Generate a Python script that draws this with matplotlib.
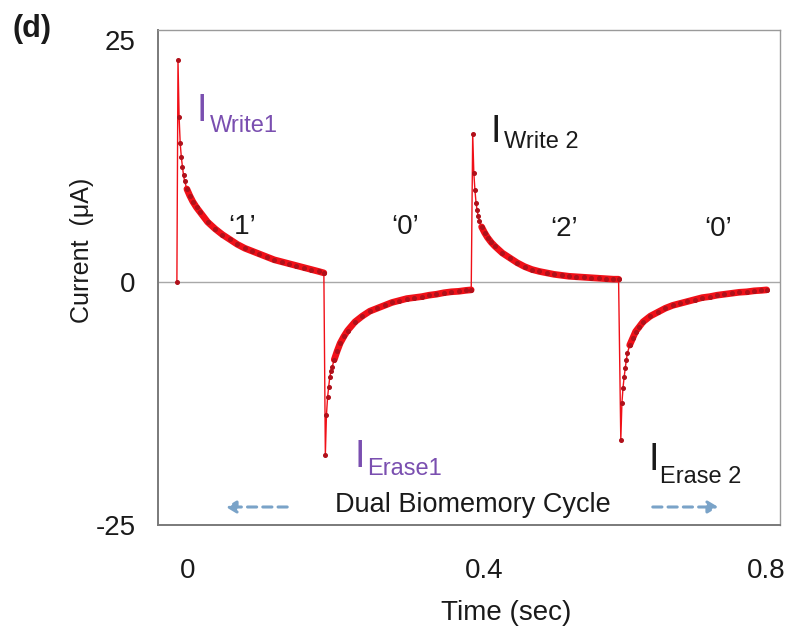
import matplotlib
matplotlib.use("Agg")
import matplotlib.pyplot as plt
from matplotlib.patches import FancyArrowPatch
from matplotlib.transforms import offset_copy

plt.rcParams['font.family'] = ['Liberation Sans', 'DejaVu Sans']

# Sampling offsets (s) within each pulse, shared by all four pulses
t_offset = [0.0, 0.0015, 0.003, 0.0045, 0.006, 0.0075, 0.009, 0.012, 0.016,
            0.020, 0.025, 0.030, 0.040, 0.050, 0.060, 0.070, 0.080, 0.090,
            0.100, 0.110, 0.120, 0.130, 0.140, 0.150, 0.160, 0.170, 0.180,
            0.190, 0.197]

# Pulse start times (s): write 1, erase 1, write 2, erase 2
pulse_start = [-0.013, 0.186, 0.385, 0.585]

# Current transients (uA)
i_write1 = [22.9, 17.0, 14.3, 12.9, 11.9, 11.0, 10.4, 9.6, 8.9, 8.3, 7.7,
            7.2, 6.2, 5.5, 4.9, 4.4, 3.9, 3.5, 3.2, 2.9, 2.6, 2.3, 2.1, 1.9,
            1.7, 1.5, 1.3, 1.1, 0.95]
i_erase1 = [-17.8, -13.7, -11.9, -10.8, -9.8, -9.2, -8.8, -8.0, -7.1, -6.3,
            -5.6, -5.0, -4.1, -3.5, -3.0, -2.7, -2.4, -2.1, -1.9, -1.7, -1.6,
            -1.5, -1.35, -1.25, -1.1, -1.0, -0.95, -0.85, -0.8]
i_write2 = [15.3, 11.3, 9.5, 8.2, 7.4, 6.8, 6.3, 5.7, 5.1, 4.6, 4.1, 3.7,
            3.0, 2.5, 2.0, 1.6, 1.3, 1.1, 0.95, 0.8, 0.7, 0.6, 0.55, 0.5,
            0.45, 0.4, 0.35, 0.3, 0.3]
i_erase2 = [-16.3, -12.5, -10.9, -9.8, -8.9, -8.0, -7.3, -6.5, -5.8, -5.1,
            -4.6, -4.1, -3.5, -3.1, -2.7, -2.4, -2.2, -2.0, -1.8, -1.6, -1.5,
            -1.35, -1.25, -1.15, -1.05, -1.0, -0.9, -0.85, -0.8]

# Resting current just before the first write pulse
t_rest = [-0.0145]
i_rest = [0.0]

x_ticks = [0, 0.4, 0.8]
x_ticklabels = ["0", "0.4", "0.8"]
y_ticks = [-25, 0, 25]
y_ticklabels = ["-25", "0", "25"]

segments = [i_write1, i_erase1, i_write2, i_erase2]

W, H = 787, 634
fig = plt.figure(figsize=(W / 100, H / 100), dpi=100)
ax = fig.add_axes([158 / W, 1 - 525 / H, (780 - 158) / W, (525 - 30) / H])


def fx(px):
    return px / W


def fy(py):
    return 1 - py / H


# Assemble the full trace
t_all = list(t_rest)
i_all = list(i_rest)
seg_t = []
for start, vals in zip(pulse_start, segments):
    ts = [start + o for o in t_offset]
    seg_t.append(ts)
    t_all += ts
    i_all += vals

red = "#f01018"
dark = "#b0101a"
ax.axhline(0, color="#a8a8a8", lw=1.0, zorder=1)
ax.plot(t_all, i_all, color=red, lw=1.0, zorder=2)

# Densely sampled slow decay reads as a thick band
for ts, vals in zip(seg_t, segments):
    ax.plot(ts[7:], vals[7:], color=red, lw=4.8, solid_capstyle="round",
            zorder=3)
ax.plot(t_all, i_all, ls="none", marker="o", ms=2.6, color=dark, zorder=4)

ax.set_xlim(-0.04, 0.8)
ax.set_ylim(-25.05, 26.0)
ax.set_xticks(x_ticks)
ax.set_xticklabels(x_ticklabels)
ax.set_yticks(y_ticks)
ax.set_yticklabels(y_ticklabels)
ax.tick_params(axis="both", length=0, labelsize=20, colors="#1a1a1a")
ax.tick_params(axis="y", pad=16)
ax.tick_params(axis="x", pad=24)
for side in ["left", "bottom"]:
    ax.spines[side].set_color("#7a7a7a")
    ax.spines[side].set_linewidth(1.4)
for side in ["top", "right"]:
    ax.spines[side].set_color("#9a9a9a")
    ax.spines[side].set_linewidth(1.0)

# Pull the last time label in so it stays on the canvas
last = ax.get_xticklabels()[-1]
last.set_transform(offset_copy(last.get_transform(), fig=fig, x=-14,
                               units="dots"))

fig.text(fx(82), fy(250), "Current  (μA)", rotation=90, ha="center",
         va="center", fontsize=18, color="#1a1a1a")
fig.text(fx(506), fy(613), "Time (sec)", ha="center", va="center",
         fontsize=20, color="#1a1a1a")
fig.text(fx(32), fy(29), "(d)", ha="center", va="center", fontsize=22,
         fontweight="bold", color="#1a1a1a")

purple = "#7a4fb0"
black = "#1a1a1a"


def current_label(x_i, y_base_i, x_sub, y_base_sub, sub, color):
    fig.text(fx(x_i), fy(y_base_i), "I", ha="left", va="baseline",
             fontsize=27, color=color)
    fig.text(fx(x_sub), fy(y_base_sub), sub, ha="left", va="baseline",
             fontsize=17, color=color)


current_label(196, 121, 210, 132, "Write1", purple)
current_label(491, 142, 504, 148, "Write 2", black)
current_label(355, 467, 367, 475, "Erase1", purple)
current_label(648, 470, 660, 483, "Erase 2", black)

for txt, px, py in [("\u20181\u2019", 242, 227), ("\u20180\u2019", 405, 227),
                    ("\u20182\u2019", 564, 229), ("\u20180\u2019", 718, 229)]:
    fig.text(fx(px), fy(py), txt, ha="center", va="center", fontsize=20,
             color=black)

fig.text(fx(473), fy(512), "Dual Biomemory Cycle", ha="center",
         va="baseline", fontsize=19.5, color=black)

blue = "#7aa3c8"
for x0, x1 in [(290, 223), (650, 721)]:
    fig.add_artist(FancyArrowPatch(
        (fx(x0), fy(507)), (fx(x1), fy(507)), transform=fig.transFigure,
        arrowstyle="-|>,head_length=5,head_width=3", linestyle=(0, (3, 2)),
        color=blue, lw=2.2, mutation_scale=1.2))

fig.savefig("out.png", dpi=100)
